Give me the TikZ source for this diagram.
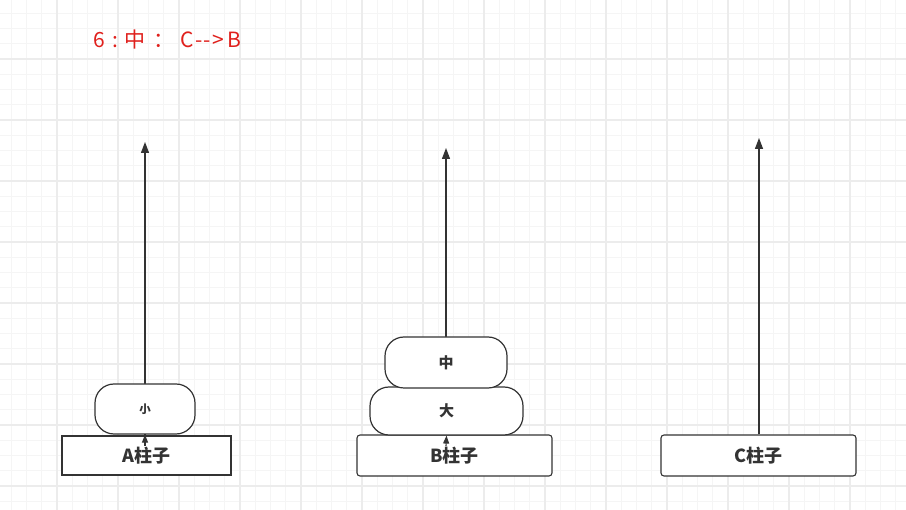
\documentclass[tikz,border=0pt]{standalone}
\usepackage{fontspec}
\setmainfont{Noto Sans CJK SC}[Ligatures=NoCommon]
\usetikzlibrary{arrows.meta}
\definecolor{ink}{HTML}{333333}
\definecolor{titlered}{HTML}{E0201C}
\definecolor{gridminor}{HTML}{F5F5F5}
\definecolor{gridmajor}{HTML}{ECECEC}
\tikzset{
  minorline/.style={draw=gridminor, line width=0.9pt},
  majorline/.style={draw=gridmajor, line width=1.3pt},
  pole/.style={draw=ink, line width=1.3pt, -{Triangle[width=8pt,length=11pt]}},
  smalltip/.style={draw=ink, line width=1.1pt, -{Triangle[width=6pt,length=8pt]}},
  basebox/.style={draw=ink, line width=1.1pt, fill=white, inner sep=0pt, font=\fontsize{18}{20}\selectfont\bfseries, text=ink},
  disk/.style={draw=ink, line width=1.2pt, fill=white, rounded corners=19pt, inner sep=0pt, text=ink},
  titlefont/.style={font=\fontsize{21}{24}\selectfont, text=titlered, inner sep=0pt, anchor=west}
}
\begin{document}
\begin{tikzpicture}[x=1pt,y=-1pt]
\useasboundingbox (0,0) rectangle (906,510);
\fill[white] (0,0) rectangle (906,510);
% grid
\foreach \k in {0,...,60} \draw[minorline] ({-4+15.25*\k},0) -- ({-4+15.25*\k},510);
\foreach \k in {0,...,34} \draw[minorline] (0,{-2+15.25*\k}) -- (906,{-2+15.25*\k});
\foreach \k in {-1,...,14} \draw[majorline] ({57+61*\k},0) -- ({57+61*\k},510);
\foreach \k in {-1,...,8} \draw[majorline] (0,{59+61*\k}) -- (906,{59+61*\k});
% title
\node[titlefont] (title) at (93,40) {6\hspace{8pt}:\hspace{6pt}中\hspace{8pt}：\hspace{6pt}C\hspace{1pt}-\hspace{1.5pt}-\hspace{1.5pt}>\hspace{3pt}B};
% top coordinates of the poles
\coordinate (topA) at (145,142);
\coordinate (topB) at (446,148);
\coordinate (topC) at (759,138);
% bases
\node[basebox, minimum width=169pt, minimum height=39pt] (baseA) at (146.5,455.5) {A柱子};
\node[basebox, rounded corners=3pt, minimum width=195pt, minimum height=41pt] (baseB) at (454.5,455.5) {B柱子};
\node[basebox, rounded corners=3pt, minimum width=195pt, minimum height=41pt] (baseC) at (758.5,455.5) {C柱子};
% poles
\draw[pole] (baseA.north -| topA) -- (topA);
\draw[pole] (baseB.north -| topB) -- (topB);
\draw[pole] (baseC.north -| topC) -- (topC);
% disks
\node[disk, minimum width=100pt, minimum height=50pt, font=\fontsize{11.5}{13}\selectfont\bfseries] (small) at (145,409) {小};
\node[disk, minimum width=153pt, minimum height=48pt, font=\fontsize{15}{17}\selectfont\bfseries] (big) at (446.5,411) {大};
\node[disk, minimum width=122pt, minimum height=51pt, font=\fontsize{15}{17}\selectfont\bfseries] (mid) at (446,362.5) {中};
% small tips
\coordinate (tA) at (145,446);
\coordinate (tB) at (446,446);
\draw[smalltip] (tA) -- (small.south);
\draw[smalltip] (tB) -- (big.south);
\end{tikzpicture}
\end{document}
